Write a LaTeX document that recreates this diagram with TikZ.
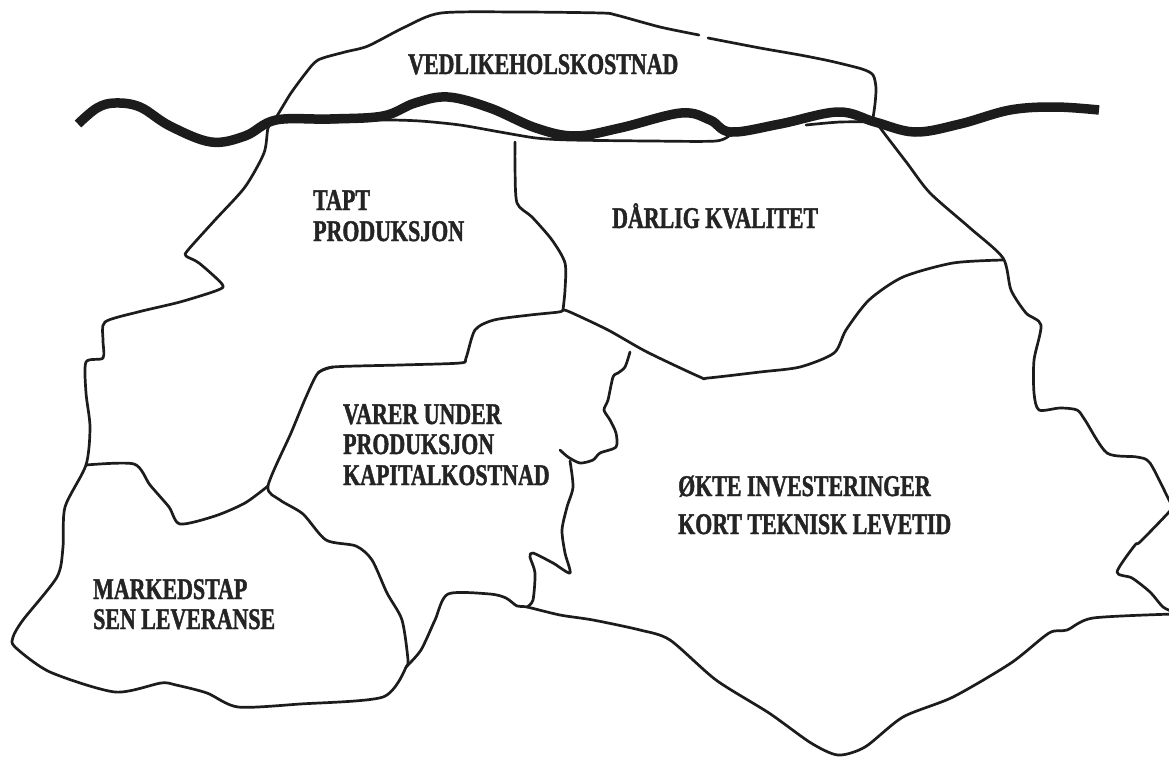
\documentclass[tikz,border=0pt]{standalone}
\usepackage{fontspec}
\newfontfamily\lblfamily{Liberation Serif}[UprightFont={* Bold}, FakeStretch=0.73, FakeBold=1.4]
\newcommand\lblfont{\lblfamily\fontsize{30}{32}\selectfont}
\definecolor{ink}{HTML}{1C1C1C}
\definecolor{lblink}{HTML}{242424}
\tikzset{
  border/.style={draw=ink, line width=2.7pt, line join=round, line cap=round},
  waterline/.style={draw=ink, line width=9.5pt, line join=round},
  lbl/.style={font=\lblfont, text=lblink, inner sep=0pt, anchor=base west},
  wobbly/.style={smooth, tension=0.45},
}
\begin{document}
\begin{tikzpicture}[x=1pt, y=-1pt]
\useasboundingbox[fill=white] (0,0) rectangle (1169,758);

% --- top cap above the water line ---
\draw[border] plot[wobbly] coordinates {(274,121) (283,106) (291,93) (305,74) (318,60) (345,52) (368,46) (405,27) (441,13) (520,12) (601,13) (616,15) (660,27) (699,35)};
\draw[border] plot[wobbly] coordinates {(708,38) (760,48) (800,55) (830,61) (862,69) (873,75) (876,88) (875,104) (873,118)};
% its lower edge, running just under the water line
\draw[border] plot[wobbly] coordinates {(276,121) (330,122) (383,120) (420,121) (460,125) (500,132) (536,138) (570,140) (650,141) (716,141) (731,134)};
\draw[border] plot[wobbly] coordinates {(806,125) (840,122) (876,122)};

% --- outer outline, left side ---
\draw[border] plot[wobbly] coordinates {(274,121) (268,128) (264,153) (245,187) (215,220) (188,250) (186,256) (199,263) (222,284) (218,290) (180,302) (138,312) (105,322) (103,340) (103,358) (86,362) (86,393) (90,427) (86,465) (65,507) (63,547) (57,577) (23,620) (13,637) (15,647) (50,672) (115,692) (161,683) (176,685) (207,693) (238,707) (300,704) (383,697) (406,667)};

% --- outer outline, right side ---
\draw[border] plot[wobbly] coordinates {(873,118) (884,133) (907,163) (930,193) (970,228) (1003,258) (1011,290) (1026,313) (1041,325) (1034,360) (1034,393) (1039,410) (1060,408) (1077,410) (1085,420) (1107,453) (1137,457) (1150,463) (1169,500) (1172,506) (1169,512) (1140,542) (1135,545) (1117,572) (1132,578) (1150,592) (1163,607) (1174,612)};

% --- outer outline, bottom ---
\draw[border] plot[wobbly] coordinates {(406,667) (421,650) (435,620) (448,594) (490,594) (506,598) (517,606) (527,607) (560,615) (593,620) (640,630) (670,640) (716,680) (769,713) (811,743) (838,755) (865,747) (903,717) (953,697) (1011,663) (1049,633) (1067,630) (1093,618) (1174,614)};

% --- inner borders ---
% between TAPT PRODUKSJON and MARKEDSTAP
\draw[border] plot[wobbly] coordinates {(86,465) (134,464) (150,485) (169,507) (180,524) (215,516) (245,503) (268,486)};
% left edge of VARER UNDER PRODUKSJON
\draw[border] plot[wobbly] coordinates {(333,367) (318,373) (306,397) (291,433) (268,486) (280,500) (303,514) (326,540) (356,546) (372,560) (387,593) (402,620) (408,660) (406,667)};
% between TAPT PRODUKSJON and VARER UNDER PRODUKSJON
\draw[border] plot[wobbly] coordinates {(318,373) (333,367) (400,365) (460,363) (466,358) (475,330) (494,320) (530,315) (559,312) (563,310)};
% between TAPT PRODUKSJON and DÅRLIG KVALITET
\draw[border] plot[wobbly] coordinates {(515,142) (515,167) (517,203) (532,217) (552,240) (565,263) (565,290) (563,310)};
% lower edge of DÅRLIG KVALITET
\draw[border] plot[wobbly] coordinates {(563,310) (570,312) (608,330) (647,352) (700,377) (708,378) (760,372) (800,367) (834,353) (846,330) (869,300) (903,277) (953,263) (1003,260)};
% right edge of VARER UNDER PRODUKSJON
\draw[border] plot[wobbly] coordinates {(630,352) (625,367) (618,373) (613,377) (608,400) (604,410) (610,420) (616,433) (616,447) (600,453) (593,460) (580,463) (568,457) (560,450)};
\draw[border] plot[wobbly] coordinates {(570,461) (573,487) (567,507) (562,530) (565,553) (570,573) (553,563) (533,553) (530,557) (535,573) (533,600) (527,607)};

% --- the water line ---
\draw[waterline] plot[smooth, tension=0.6] coordinates {(78,124) (97,108) (115,103) (140,107) (170,126) (211,142) (245,136) (276,120) (330,119) (383,116) (415,103) (448,97) (490,108) (536,128) (575,136) (620,128) (681,113) (710,120) (731,132) (780,124) (838,112) (875,122) (915,132) (960,124) (1010,110) (1055,107) (1099,110)};

% --- labels ---
\node[lbl] (ved) at (408,74) {VEDLIKEHOLSKOSTNAD};
\node[lbl] (tapt1) at (313,210) {TAPT};
\node[lbl] (tapt2) at (313,241) {PRODUKSJON};
\node[lbl] (darlig) at (612,228) {DÅRLIG KVALITET};
\node[lbl] (varer1) at (343,424) {VARER UNDER};
\node[lbl] (varer2) at (343,454) {PRODUKSJON};
\node[lbl] (varer3) at (343,485) {KAPITALKOSTNAD};
\node[lbl] (okte1) at (678,496) {ØKTE INVESTERINGER};
\node[lbl] (okte2) at (678,534) {KORT TEKNISK LEVETID};
\node[lbl] (marked1) at (93,599) {MARKEDSTAP};
\node[lbl] (marked2) at (93,629) {SEN LEVERANSE};
\end{tikzpicture}
\end{document}
